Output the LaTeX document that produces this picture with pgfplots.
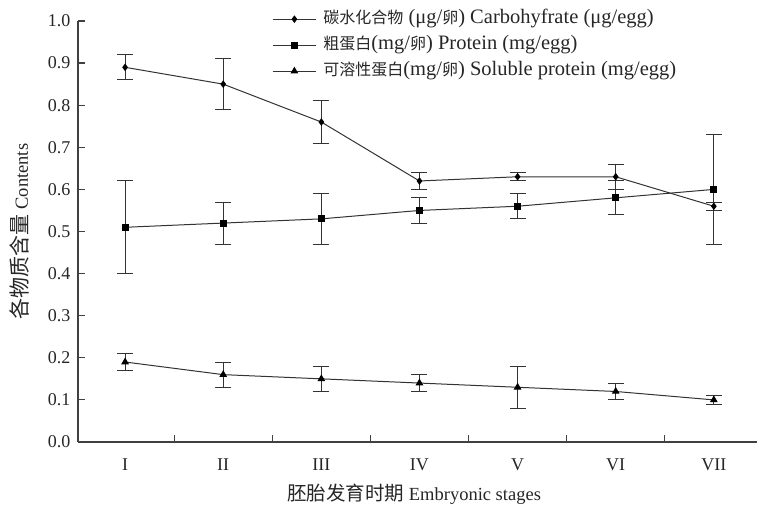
\documentclass[border=0pt]{standalone}
\usepackage{fontspec}
\setmainfont{Liberation Serif}
\newfontfamily\cjk{Noto Sans CJK SC}
\newcommand\zh[2][16bp]{{\cjk\fontsize{#1}{20bp}\selectfont #2}}
\usepackage{pgfplots}
\pgfplotsset{compat=1.18}
\usepackage{pgfplotstable}

\pgfplotstableread{
x y e
1 0.89 0.03
2 0.85 0.06
3 0.76 0.05
4 0.62 0.02
5 0.63 0.01
6 0.63 0.03
7 0.56 0.01
}\carb
\pgfplotstableread{
x y e
1 0.51 0.11
2 0.52 0.05
3 0.53 0.06
4 0.55 0.03
5 0.56 0.03
6 0.58 0.04
7 0.60 0.13
}\prot
\pgfplotstableread{
x y e
1 0.19 0.02
2 0.16 0.03
3 0.15 0.03
4 0.14 0.02
5 0.13 0.05
6 0.12 0.02
7 0.10 0.01
}\solu

\begin{document}
\begin{tikzpicture}
\useasboundingbox (0,0) rectangle (757bp,506bp);
\begin{axis}[
  at={(78bp,64bp)}, anchor=south west,
  scale only axis, width=679bp, height=421bp,
  xmin=0.52, xmax=7.44, ymin=0, ymax=1.0,
  axis x line*=bottom, axis y line*=left,
  axis line style={line width=1.2bp, color=black!75, -},
  tick align=inside,
  major tick length=7bp, minor tick length=7bp,
  tick style={line width=1.2bp, color=black!75},
  xtick={1,...,7}, xticklabels={I,II,III,IV,V,VI,VII},
  major x tick style={draw=none},
  minor xtick={1.5,2.5,3.5,4.5,5.5,6.5},
  ytick={0,0.1,0.2,0.3,0.4,0.5,0.6,0.7,0.8,0.9,1.0},
  yticklabel style={xshift=-4bp, /pgf/number format/.cd, fixed, fixed zerofill, precision=1, assume math mode=true},
  xticklabel style={yshift=-13bp},
  tick label style={font=\fontsize{18bp}{21bp}\selectfont, color=black!85},
  label style={font=\fontsize{18.5bp}{21bp}\selectfont, color=black!85},
  xlabel={\zh[19.5bp]{胚胎发育时期} Embryonic stages},
  ylabel={\zh[21bp]{各物质含量} Contents},
  x label style={at={(axis description cs:0.495,0)}, anchor=north, yshift=-38bp},
  y label style={at={(axis description cs:-0.066,0.5)}, anchor=south},
  legend style={draw=none, fill=none, at={(0.286,1.025)}, anchor=north west,
    font=\fontsize{20.5bp}{21bp}\selectfont, text=black!85, inner sep=0pt, row sep=9bp, column sep=7bp,
    nodes={inner sep=0pt, text height=13bp, text depth=4bp}},
  legend cell align=left,
  legend image code/.code={\draw[mark repeat=2,mark phase=2,#1] plot coordinates {(0bp,0bp) (21.5bp,0bp) (43bp,0bp)};},
  every axis plot/.append style={line width=1bp, color=black!80, mark options={fill=black, draw=black, solid}},
  error bars/error bar style={line width=1bp, color=black!80},
  error bars/error mark options={rotate=90, mark size=8bp, line width=1bp, color=black!80},
]
\addplot[mark=diamond*, mark size=3bp,
  error bars/.cd, y dir=both, y explicit] table[x=x, y=y, y error=e]{\carb};
\addlegendentry{\zh{碳水化合物} (μg/\zh{卵}) Carbohyfrate (μg/egg)}
\addplot[mark=square*, mark size=3bp,
  error bars/.cd, y dir=both, y explicit] table[x=x, y=y, y error=e]{\prot};
\addlegendentry{\zh{粗蛋白}(mg/\zh{卵}) Protein (mg/egg)}
\addplot[mark=triangle*, mark size=3.5bp,
  error bars/.cd, y dir=both, y explicit] table[x=x, y=y, y error=e]{\solu};
\addlegendentry{\zh{可溶性蛋白}(mg/\zh{卵}) Soluble protein (mg/egg)}
\end{axis}
\end{tikzpicture}
\end{document}
